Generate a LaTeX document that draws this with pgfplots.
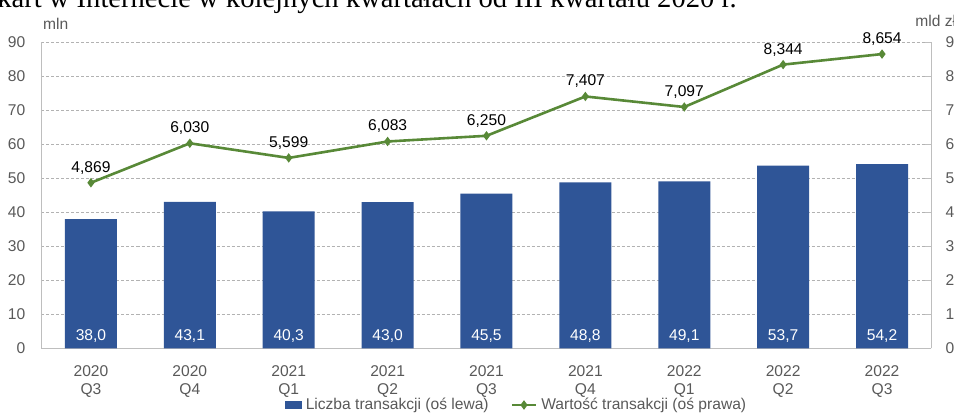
\documentclass[border=0pt]{standalone}
\usepackage{pgfplots}
\pgfplotsset{compat=1.18}
\usepackage{fontspec}
\setmainfont{Liberation Sans}
\newfontfamily\titlefont{Liberation Serif}
\definecolor{barblue}{RGB}{47,85,151}
\definecolor{lgreen}{RGB}{88,137,55}
\definecolor{tickgray}{RGB}{89,89,89}
\definecolor{axgray}{RGB}{190,190,190}
\newcommand{\f}{\fontsize{7.8}{8}\selectfont}
\newcommand{\fx}{\fontsize{7.8}{7.9}\selectfont}
\pgfplotsset{
  barlegend/.style={legend image code/.code={\fill[##1] (0pt,-1.9pt) rectangle (8.5pt,1.9pt);}},
  linelegend/.style={legend image code/.code={\draw[mark repeat=2,mark phase=2,##1] plot coordinates {(0pt,0pt) (6pt,0pt) (12pt,0pt)};}},
}
\begin{document}
\begin{tikzpicture}
\pgfplotsset{
  common/.style={
    scale only axis, width=445pt, height=153pt,
    at={(0,0)}, anchor=south west,
    xmin=-0.5, xmax=8.5,
    tick label style={font=\f, text=tickgray},
    axis line style={-, color=axgray, line width=0.6pt},
    /pgf/number format/assume math mode=true,
  }
}
\begin{axis}[common,
  ymin=0, ymax=90, ytick={0,10,...,90},
  ymajorgrids,
  grid style={dash pattern=on 1.5pt off 1pt, color=gray!60, line width=0.4pt},
  axis x line*=bottom, axis y line*=left,
  major tick length=0pt,
  xtick={0,...,8},
  xticklabels={{2020\\[0.9pt]Q3},{2020\\[0.9pt]Q4},{2021\\[0.9pt]Q1},{2021\\[0.9pt]Q2},{2021\\[0.9pt]Q3},{2021\\[0.9pt]Q4},{2022\\[0.9pt]Q1},{2022\\[0.9pt]Q2},{2022\\[0.9pt]Q3}},
  xticklabel style={align=center, yshift=-5.2pt},
  yticklabel style={xshift=-4.6pt},
]
\addplot[ybar, bar width=26pt, fill=barblue, draw=none]
  coordinates {(0,38.0) (1,43.1) (2,40.3) (3,43.0) (4,45.5) (5,48.8) (6,49.1) (7,53.7) (8,54.2)};
\node[anchor=base, text=white, font=\f] at (axis cs:0,2.44) {38,0};
\node[anchor=base, text=white, font=\f] at (axis cs:1,2.44) {43,1};
\node[anchor=base, text=white, font=\f] at (axis cs:2,2.44) {40,3};
\node[anchor=base, text=white, font=\f] at (axis cs:3,2.44) {43,0};
\node[anchor=base, text=white, font=\f] at (axis cs:4,2.44) {45,5};
\node[anchor=base, text=white, font=\f] at (axis cs:5,2.44) {48,8};
\node[anchor=base, text=white, font=\f] at (axis cs:6,2.44) {49,1};
\node[anchor=base, text=white, font=\f] at (axis cs:7,2.44) {53,7};
\node[anchor=base, text=white, font=\f] at (axis cs:8,2.44) {54,2};
\end{axis}
\begin{axis}[common,
  ymin=0, ymax=9, ytick={0,...,9},
  axis y line*=right, axis x line=none,
  major tick length=3pt, tick align=inside,
  tick style={color=axgray, line width=0.6pt},
  yticklabel style={xshift=3.5pt},
  legend style={at={(0.5348,-0.1853)}, anchor=center, draw=none, fill=none,
    legend columns=2, font=\f, text=tickgray,
    /tikz/every even column/.append style={column sep=9pt}},
]
\addlegendimage{fill=barblue, draw=none, barlegend}
\addlegendentry{Liczba transakcji (oś lewa)}
\addplot[color=lgreen, line width=1.3pt, mark=diamond*, mark size=1.3pt,
  mark options={solid},
  point meta=y,
  nodes near coords={\pgfmathprintnumber[fixed,fixed zerofill,precision=3,use comma,assume math mode=true]{\pgfplotspointmeta}},
  every node near coord/.append style={text=black, font=\f, anchor=base, yshift=5.3pt, inner sep=0pt},
  linelegend]
  coordinates {(0,4.869) (1,6.030) (2,5.599) (3,6.083) (4,6.250) (5,7.407) (6,7.097) (7,8.344) (8,8.654)};
\addlegendentry{Wartość transakcji (oś prawa)}
\end{axis}
\node[anchor=base west, text=tickgray, font=\f, inner sep=0pt] at (0.6pt,159.2pt) {mln};
\node[anchor=base west, text=tickgray, font=\f, inner sep=0pt] at (436.75pt,160.8pt) {mld zł};
\node[anchor=base east, font=\titlefont\fontsize{14.3}{17}\selectfont, inner sep=0pt] at (347.75pt,170.4pt) {kart w Internecie w kolejnych kwartałach od III kwartału 2020 r.};
\pgfresetboundingbox
\path[use as bounding box] (-20.75pt,-34.35pt) rectangle (456.25pt,174.15pt);
\end{tikzpicture}
\end{document}
